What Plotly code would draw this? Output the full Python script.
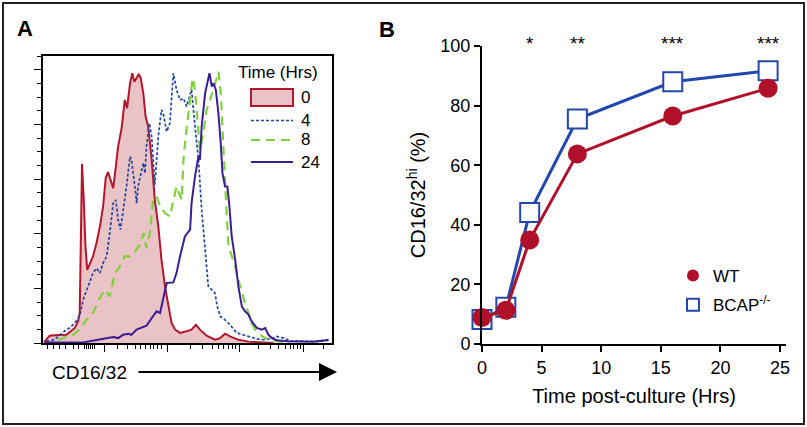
import plotly.graph_objects as go

W, H = 807, 427
def px(x): return x / W
def py(y): return 1 - y / H

FONT = "Liberation Sans, Arial, sans-serif"

# ---------------- Panel A : CD16/32 histograms (channel 0-1000, % of max) -------------
h0_x = [3.5, 23, 52, 81, 110, 121, 127, 132, 135, 141, 147, 153, 162, 173, 185, 197, 208, 217, 225,
        234, 243, 252, 260, 272, 283, 291, 301, 309, 316, 324, 331, 338, 347, 355, 364, 376, 387, 399,
        410, 422, 434, 445, 457, 474, 497, 514, 529, 543, 566, 595, 613, 630, 647, 676, 711, 763, 798]
h0_y = [0.2, 2.7, 2.9, 3.0, 5.5, 7.9, 11.0, 40.2, 65.6, 52.4, 35.4, 26.8, 29.3, 31.7, 36.6, 42.7, 50.0,
        60.5, 62.6, 59.8, 56.7, 64.6, 72.0, 78.7, 89.0, 86.0, 95.1, 98.8, 95.7, 97.0, 98.5, 97.0, 91.5,
        82.9, 79.3, 67.1, 52.4, 42.7, 30.5, 20.7, 13.4, 7.3, 4.9, 3.7, 4.3, 4.9, 6.7, 4.9, 2.7, 1.2,
        1.8, 3.4, 2.4, 1.2, 0.5, 0.2, 0.0]

h4_x = [11.6, 40, 64, 81, 92, 110, 127, 139, 156, 173, 185, 197, 208, 220, 231, 243, 252, 260, 268,
        277, 289, 301, 306, 318, 324, 329, 341, 347, 353, 358, 368, 376, 387, 399, 410, 416, 428, 439,
        451, 462, 474, 486, 497, 509, 514, 526, 538, 549, 561, 572, 584, 595, 603, 613, 630, 647, 670,
        694, 717, 740, 763, 786, 809, 832, 855, 913, 959, 988]
h4_y = [0.6, 1.2, 3.4, 4.9, 5.5, 7.3, 9.8, 15.9, 20.7, 25.6, 27.4, 25.6, 29.3, 31.7, 40.2, 51.2, 52.4,
        45.1, 41.5, 47.6, 57.3, 68.3, 67.1, 57.3, 51.2, 57.3, 63.4, 65.9, 62.2, 72.0, 80.5, 75.6, 58.0,
        75.6, 85.4, 84.1, 77.4, 80.5, 98.8, 92.7, 89.0, 89.6, 86.6, 91.5, 92.7, 79.3, 67.1, 48.8, 32.9,
        20.7, 19.5, 18.3, 13.4, 9.8, 8.5, 6.7, 3.7, 3.0, 2.4, 1.5, 1.2, 1.5, 2.4, 1.8, 0.7, 0.5, 0.6, 1.0]

h8_x = [52, 81, 104, 127, 150, 173, 197, 214, 231, 249, 266, 283, 301, 318, 335, 349, 358, 370, 381,
        393, 405, 422, 439, 451, 462, 480, 486, 495, 503, 511, 518, 526, 534, 543, 555, 566, 578, 590,
        599, 607, 615, 622, 628, 634, 642, 653, 665, 676, 688, 699, 711, 722, 734, 751, 769, 792, 821, 855]
h8_y = [1.0, 2.4, 3.0, 4.9, 8.5, 11.0, 16.5, 19.5, 17.1, 25.6, 28.0, 31.7, 31.7, 33.5, 36.0, 40.2, 34.8,
        40.2, 52.4, 53.7, 50.0, 47.6, 46.3, 52.4, 57.3, 52.4, 67.1, 76.8, 84.1, 91.5, 97.0, 92.7, 82.9,
        70.7, 76.8, 85.4, 89.0, 92.7, 96.3, 99.4, 91.5, 76.8, 62.2, 50.0, 35.4, 31.7, 28.0, 23.2, 18.3,
        14.6, 11.0, 7.3, 4.9, 3.0, 1.8, 1.0, 0.5, 0.2]

h24_x = [6, 139, 162, 197, 220, 243, 260, 277, 295, 306, 324, 341, 358, 376, 393, 405, 416, 428, 451,
         462, 474, 491, 509, 514, 526, 538, 543, 549, 561, 570, 576, 584, 590, 598, 607, 615, 621, 630,
         638, 645, 653, 665, 676, 688, 699, 711, 722, 740, 757, 769, 780, 792, 809, 844, 890, 936, 977, 988]
h24_y = [0.2, 0.2, 0.6, 1.2, 1.8, 2.2, 1.8, 3.0, 3.4, 3.0, 4.9, 5.5, 6.3, 9.1, 11.6, 11.0, 15.9, 22.0,
         22.2, 25.6, 31.7, 39.0, 41.5, 51.2, 61.0, 68.3, 67.1, 79.3, 91.5, 96.3, 98.8, 93.9, 95.1, 92.7,
         84.1, 73.2, 62.2, 57.3, 57.3, 50.0, 39.0, 30.5, 20.7, 13.4, 11.6, 10.4, 7.9, 5.5, 4.9, 5.5,
         3.0, 1.8, 1.0, 0.6, 0.6, 0.5, 1.0, 1.2]

legend_a_title = "Time (Hrs)"
legend_a_labels = ["0", "4", "8", "24"]

# x tick positions of the biexponential display (channel units)
xa_major = [211.5, 430, 680.8, 901.7]
xa_minor = [13.9, 34.7, 55.5, 76.3, 104, 121.4, 142.2, 149, 156, 163, 170, 177,
            256.6, 291.3, 319, 336.4, 353.7, 371, 381.5, 395.4, 409.2,
            509.8, 550.4, 585, 607, 624, 641.6, 654.4, 665.9,
            745.6, 787.2, 815, 839, 856, 867, 880, 891, 971]

# ---------------- Panel B : CD16/32hi % over time -------------
time_hrs = [0, 2, 4, 8, 16, 24]
wt_pct = [8.9, 11.3, 34.9, 63.8, 76.5, 85.8]
bcap_pct = [8.2, 12.3, 44.1, 75.5, 88.0, 91.7]
sig_time = [4, 8, 16, 24]
sig_labels = ["*", "**", "***", "***"]

RED = "#b3172d"
PINK = "#eac3c7"
BLUE4 = "#23459e"
GREEN = "#7ed13c"
PURPLE = "#3a1e92"
WT_C = "#b0102a"
BCAP_C = "#2347ad"

fig = go.Figure()

fig.add_trace(go.Scatter(x=h0_x, y=h0_y, mode="lines", fill="tozeroy", fillcolor=PINK,
                         line=dict(color=RED, width=2), showlegend=False, xaxis="x", yaxis="y"))
fig.add_trace(go.Scatter(x=h4_x, y=h4_y, mode="lines",
                         line=dict(color=BLUE4, width=1.7, dash="3px,2px"), showlegend=False,
                         xaxis="x", yaxis="y"))
fig.add_trace(go.Scatter(x=h8_x, y=h8_y, mode="lines",
                         line=dict(color=GREEN, width=2.2, dash="9px,6px"), showlegend=False,
                         xaxis="x", yaxis="y"))
fig.add_trace(go.Scatter(x=h24_x, y=h24_y, mode="lines",
                         line=dict(color=PURPLE, width=2), showlegend=False, xaxis="x", yaxis="y"))

# Panel B: lines, then markers (markers carry the legend)
fig.add_trace(go.Scatter(x=time_hrs, y=bcap_pct, mode="lines", showlegend=False,
                         line=dict(color=BCAP_C, width=3), cliponaxis=False,
                         xaxis="x2", yaxis="y2"))
fig.add_trace(go.Scatter(x=time_hrs, y=bcap_pct, mode="markers", name="BCAP<sup>-/-</sup>",
                         marker=dict(symbol="square", size=19, color="white",
                                     line=dict(color=BCAP_C, width=2)),
                         cliponaxis=False, legendrank=2, legendgroup="b",
                         xaxis="x2", yaxis="y2"))
fig.add_trace(go.Scatter(x=time_hrs, y=wt_pct, mode="lines", showlegend=False,
                         line=dict(color=WT_C, width=3), cliponaxis=False,
                         xaxis="x2", yaxis="y2"))
fig.add_trace(go.Scatter(x=time_hrs, y=wt_pct, mode="markers", name="WT",
                         marker=dict(symbol="circle", size=19, color=WT_C),
                         cliponaxis=False, legendrank=1, legendgroup="a",
                         xaxis="x2", yaxis="y2"))

fig.update_layout(
    width=W, height=H, autosize=False,
    margin=dict(l=0, r=0, t=0, b=0, pad=0, autoexpand=False),
    paper_bgcolor="white", plot_bgcolor="white",
    font=dict(family=FONT, color="black", size=17),
    xaxis=dict(domain=[px(43), px(332)], range=[0, 1000], showgrid=False, zeroline=False,
               showline=True, linewidth=2, linecolor="black", mirror=True, automargin=False,
               tickmode="array", tickvals=xa_major, ticks="outside", ticklen=7, tickwidth=1.2,
               tickcolor="black", showticklabels=False,
               minor=dict(tickmode="array", tickvals=xa_minor, ticks="outside", ticklen=4,
                          tickwidth=1, tickcolor="black")),
    yaxis=dict(domain=[py(343), py(56)], range=[0, 105.1], showgrid=False, zeroline=False,
               showline=True, linewidth=2, linecolor="black", mirror=True, automargin=False,
               tickmode="linear", tick0=0, dtick=20, ticks="outside", ticklen=7, tickwidth=1.2,
               tickcolor="black", showticklabels=False,
               minor=dict(dtick=5, ticks="outside", ticklen=4, tickwidth=1, tickcolor="black")),
    xaxis2=dict(domain=[px(482), px(786)], range=[0, 25.5], showgrid=False, zeroline=False,
                showline=True, linewidth=2, linecolor="black", automargin=False,
                tickmode="linear", tick0=0, dtick=5, ticks="outside", ticklen=6, tickwidth=2,
                tickcolor="black", tickfont=dict(size=18),
                title=dict(text="Time post-culture (Hrs)", font=dict(size=20), standoff=12),
                anchor="y2"),
    yaxis2=dict(domain=[py(344), py(46)], range=[0, 100], showgrid=False, zeroline=False,
                showline=True, linewidth=2, linecolor="black", automargin=False,
                tickmode="linear", tick0=0, dtick=20, ticks="outside", ticklen=6, tickwidth=2,
                tickcolor="black", tickfont=dict(size=18),
                title=dict(text="CD16/32<sup>hi</sup> (%)", font=dict(size=20), standoff=9),
                anchor="x2"),
    legend=dict(x=px(673), y=py(258), xanchor="left", yanchor="top", bgcolor="rgba(0,0,0,0)",
                font=dict(size=17), itemsizing="constant", tracegroupgap=4,
                traceorder="grouped"),
)

shapes = [
    # outer frame
    dict(type="rect", xref="paper", yref="paper", x0=px(3), x1=px(804), y0=py(424), y1=py(3),
         line=dict(color="#222", width=2), fillcolor="rgba(0,0,0,0)"),
    # legend A glyphs
    dict(type="rect", xref="paper", yref="paper", x0=px(251), x1=px(293), y0=py(106), y1=py(89),
         line=dict(color=RED, width=2), fillcolor=PINK),
    dict(type="line", xref="paper", yref="paper", x0=px(251), x1=px(293), y0=py(120.5), y1=py(120.5),
         line=dict(color=BLUE4, width=1.7, dash="3px,2px")),
    dict(type="line", xref="paper", yref="paper", x0=px(251), x1=px(293), y0=py(140), y1=py(140),
         line=dict(color=GREEN, width=2.2, dash="9px,6px")),
    dict(type="line", xref="paper", yref="paper", x0=px(251), x1=px(293), y0=py(162), y1=py(162),
         line=dict(color=PURPLE, width=2)),
]
fig.update_layout(shapes=shapes)

def label(text, x, y, size, xanchor="center", **kw):
    return dict(text=text, x=px(x), y=py(y), xref="paper", yref="paper", showarrow=False,
                xanchor=xanchor, yanchor="middle", font=dict(size=size), **kw)

ann = [
    label("<b>A</b>", 25, 29, 22),
    label("<b>B</b>", 387, 30, 22),
    label(legend_a_title, 278, 73, 17),
    label("CD16/32", 89, 372, 19),
    dict(text="", x=px(337), y=py(372), xref="paper", yref="paper", showarrow=True,
         ax=-200, ay=0, arrowhead=2, arrowsize=1.8, arrowwidth=2, arrowcolor="black"),
]
for lab, yy in zip(legend_a_labels, [97, 120.5, 140, 162.5]):
    ann.append(label(lab, 299, yy, 17, xanchor="left"))
for t, s in zip(sig_time, sig_labels):
    ann.append(dict(text=s, x=t, y=py(43), xref="x2", yref="paper", showarrow=False,
                    xanchor="center", yanchor="middle", font=dict(size=19)))
fig.update_layout(annotations=ann)

fig.write_html("out.html", config={"displayModeBar": False},
               post_script="document.body.style.margin='0px';")
